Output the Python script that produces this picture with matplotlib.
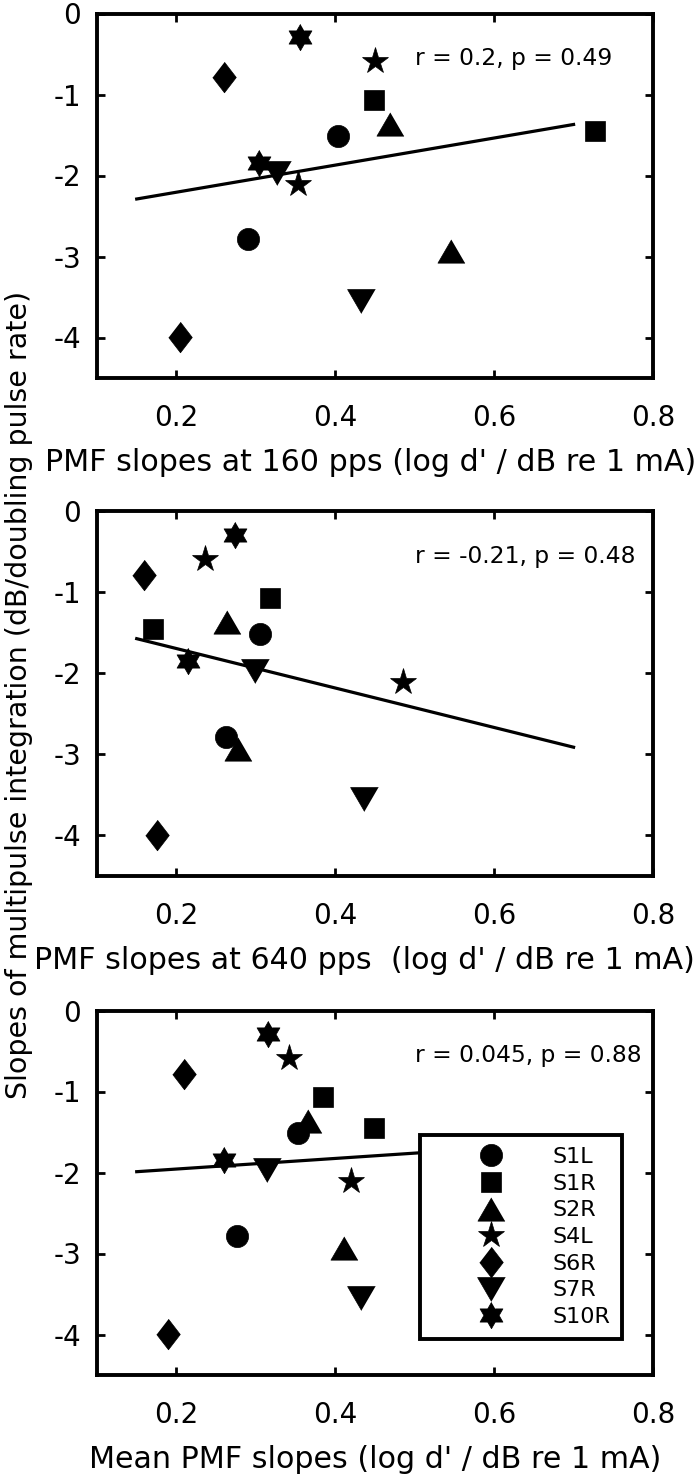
#!/usr/bin/env python3
"""
Multipulse integration slopes vs PMF slopes, three stacked scatter panels
(160 pps, 640 pps, mean), one marker per subject/ear, with a fitted line.
"""

import numpy as np
import matplotlib
matplotlib.use("Agg")
import matplotlib.pyplot as plt

# ----------------------------------------------------------------------
# DATA
# ----------------------------------------------------------------------
subjects = ["S1L", "S1R", "S2R", "S4L", "S6R", "S7R", "S10R"]

# slopes of multipulse integration (dB/doubling pulse rate), 2 points per subject
mpi_S1L = [-1.51, -2.79]
mpi_S1R = [-1.07, -1.45]
mpi_S2R = [-1.36, -2.93]
mpi_S4L = [-0.59, -2.11]
mpi_S6R = [-0.79, -3.99]
mpi_S7R = [-1.97, -3.55]
mpi_S10R = [-0.29, -1.85]

# PMF slopes at 160 pps
pmf160_S1L = [0.404, 0.290]
pmf160_S1R = [0.449, 0.727]
pmf160_S2R = [0.469, 0.546]
pmf160_S4L = [0.450, 0.353]
pmf160_S6R = [0.260, 0.204]
pmf160_S7R = [0.327, 0.433]
pmf160_S10R = [0.356, 0.304]

# PMF slopes at 640 pps
pmf640_S1L = [0.305, 0.263]
pmf640_S1R = [0.318, 0.171]
pmf640_S2R = [0.264, 0.277]
pmf640_S4L = [0.236, 0.485]
pmf640_S6R = [0.159, 0.175]
pmf640_S7R = [0.299, 0.436]
pmf640_S10R = [0.274, 0.215]

# mean PMF slopes
pmfmean_S1L = [0.353, 0.276]
pmfmean_S1R = [0.385, 0.449]
pmfmean_S2R = [0.366, 0.411]
pmfmean_S4L = [0.342, 0.420]
pmfmean_S6R = [0.210, 0.190]
pmfmean_S7R = [0.314, 0.433]
pmfmean_S10R = [0.315, 0.260]

# fitted lines (end points)
fit_x = [0.15, 0.70]
fit160_y = [-2.29, -1.37]
fit640_y = [-1.57, -2.91]
fitmean_y = [-1.99, -1.63]

stats_text = ["r = 0.2, p = 0.49", "r = -0.21, p = 0.48", "r = 0.045, p = 0.88"]
xlabels = [
    "PMF slopes at 160 pps (log d' / dB re 1 mA)",
    "PMF slopes at 640 pps  (log d' / dB re 1 mA)",
    "Mean PMF slopes (log d' / dB re 1 mA)",
]
ylabel = "Slopes of multipulse integration (dB/doubling pulse rate)"

xtick_vals = [0.2, 0.4, 0.6, 0.8]
xtick_labels = ["0.2", "0.4", "0.6", "0.8"]
ytick_vals = [0, -1, -2, -3, -4]
ytick_labels = ["0", "-1", "-2", "-3", "-4"]

# ----------------------------------------------------------------------
# MARKERS (MATLAB-like shapes)
# ----------------------------------------------------------------------
ang_out = np.deg2rad(90 + 60 * np.arange(6))
ang_in = ang_out + np.deg2rad(30)
hexagram = []
for a, b in zip(ang_out, ang_in):
    hexagram.append((np.cos(a), np.sin(a)))
    hexagram.append((np.cos(b) / np.sqrt(3), np.sin(b) / np.sqrt(3)))

tri_up = [(0, 0.86), (-1, -0.86), (1, -0.86)]
tri_down = [(0, -0.86), (-1, 0.86), (1, 0.86)]
diamond = [(0, 1), (0.77, 0), (0, -1), (-0.77, 0)]

MARKERS = {
    "S1L": ("o", 16),
    "S1R": ("s", 14),
    "S2R": (tri_up, 19.5),
    "S4L": ("*", 20),
    "S6R": (diamond, 22),
    "S7R": (tri_down, 20),
    "S10R": (hexagram, 19),
}

plt.rcParams["font.family"] = ["DejaVu Sans"]
plt.rcParams["axes.unicode_minus"] = False


def draw_panel(ax, xs, ys, fit_y, text, xlabel, label_x=0.5):
    ax.plot(fit_x, fit_y, color="k", lw=2.3, zorder=2)
    for name, x, y in zip(subjects, xs, ys):
        m, ms = MARKERS[name]
        ax.plot(x, y, linestyle="none", marker=m, ms=ms, color="k",
                mec="k", mew=0.5, label=name, zorder=3)
    ax.text(0.5, -0.64, text, fontsize=16.8, ha="left", va="baseline")
    ax.set_xlim(0.1, 0.8)
    ax.set_ylim(-4.5, 0)
    ax.set_xticks(xtick_vals)
    ax.set_xticklabels(xtick_labels)
    ax.set_yticks(ytick_vals)
    ax.set_yticklabels(ytick_labels)
    ax.tick_params(direction="in", top=True, right=True, length=6, width=2,
                   labelsize=20)
    ax.tick_params(axis="x", pad=19)
    ax.tick_params(axis="y", pad=11.5)
    for sp in ax.spines.values():
        sp.set_linewidth(2.8)
    ax.set_xlabel(xlabel, fontsize=21.7, labelpad=11)
    ax.xaxis.label.set_x(label_x)


def main():
    fig = plt.figure(figsize=(7.0, 14.81), dpi=100)
    left, width, height = 97 / 700, 556 / 700, 364.5 / 1481
    bottoms = [1 - 378 / 1481, 1 - 876 / 1481, 1 - 1375 / 1481]
    axes = [fig.add_axes([left, b, width, height]) for b in bottoms]

    ys = [mpi_S1L, mpi_S1R, mpi_S2R, mpi_S4L, mpi_S6R, mpi_S7R, mpi_S10R]
    x160 = [pmf160_S1L, pmf160_S1R, pmf160_S2R, pmf160_S4L, pmf160_S6R,
            pmf160_S7R, pmf160_S10R]
    x640 = [pmf640_S1L, pmf640_S1R, pmf640_S2R, pmf640_S4L, pmf640_S6R,
            pmf640_S7R, pmf640_S10R]
    xmean = [pmfmean_S1L, pmfmean_S1R, pmfmean_S2R, pmfmean_S4L, pmfmean_S6R,
             pmfmean_S7R, pmfmean_S10R]

    draw_panel(axes[0], x160, ys, fit160_y, stats_text[0], xlabels[0], 0.492)
    draw_panel(axes[1], x640, ys, fit640_y, stats_text[1], xlabels[1], 0.481)
    draw_panel(axes[2], xmean, ys, fitmean_y, stats_text[2], xlabels[2], 0.5)

    leg = axes[2].legend(loc="upper left", bbox_to_anchor=(0.581, 0.659),
                         borderaxespad=0, fontsize=16, handlelength=5.3,
                         handletextpad=0.1, borderpad=0.55, labelspacing=0.3,
                         fancybox=False, framealpha=1, edgecolor="k")
    leg.get_frame().set_linewidth(2.8)

    fig.text(19 / 700, 1 - 695 / 1481, ylabel, rotation=90, fontsize=20.5,
             ha="center", va="center")

    fig.savefig("out.png", dpi=100)


if __name__ == "__main__":
    main()
